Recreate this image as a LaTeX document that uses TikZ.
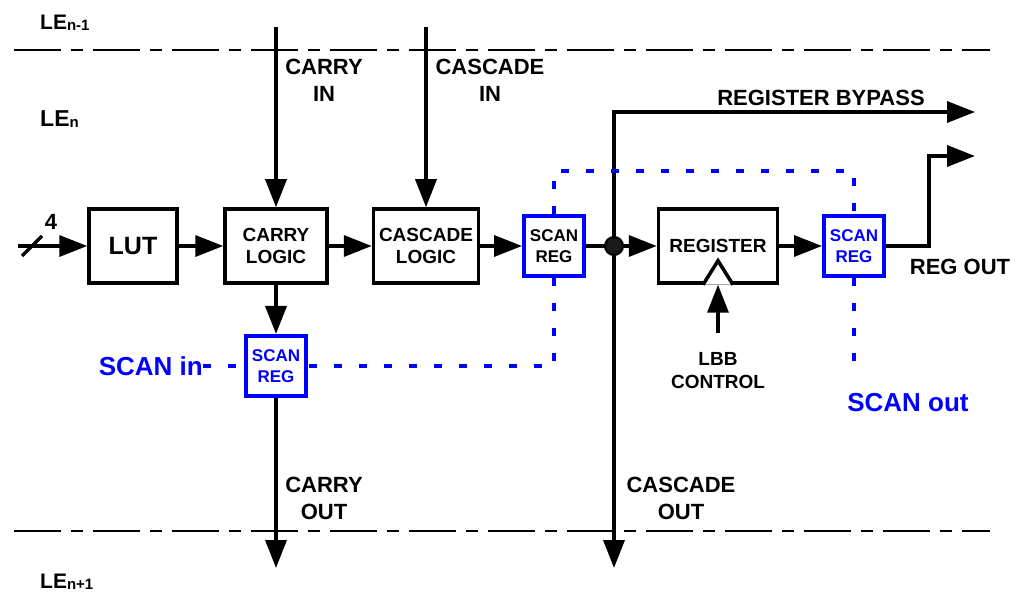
\documentclass[tikz,border=0pt]{standalone}
\usepackage{fontspec}
\setmainfont{Liberation Sans}
\usetikzlibrary{arrows.meta,positioning,calc}

\definecolor{scanblue}{RGB}{0,0,255}
\newcommand{\bsf}[2]{\fontsize{#1}{#2}\selectfont\bfseries}
\newcommand{\subsc}[1]{\raisebox{-1pt}{\fontsize{15}{15}\selectfont #1}}

\begin{document}
\begin{tikzpicture}[x=1pt, y=-1pt,
  wire/.style={line width=3.5pt},
  arr/.style={wire, -{Triangle[length=28pt,width=21pt]}},
  blk/.style={draw, line width=3.5pt, align=center, minimum height=74pt, inner sep=2pt, font=\bsf{19}{22}},
  scanbox/.style={draw=scanblue, line width=4pt, align=center, minimum width=60pt, minimum height=60pt, inner sep=1pt, font=\bsf{17}{21}},
  lbl/.style={align=center, font=\bsf{22}{27}},
  scanlbl/.style={text=scanblue, font=\bsf{26}{30}},
  scanpath/.style={draw=scanblue, line width=4pt, dash pattern=on 8pt off 17pt},
  divider/.style={line width=2.5pt, dash pattern=on 47pt off 10pt on 12pt off 10pt},
  lelbl/.style={anchor=base west, inner sep=0pt, font=\bsf{21}{21}}]
  \useasboundingbox (0,0) rectangle (1021,596);

  % logic element boundaries
  \draw[divider] (14,50) -- (990,50);
  \draw[divider] (14,531) -- (990,531);
  \node[lelbl] (lenm) at (40,30) {LE\subsc{n-1}};
  \node[lelbl, font=\bsf{23}{23}] (len) at (40,127) {LE\subsc{n}};
  \node[lelbl] (lenp) at (40,588) {LE\subsc{n+1}};

  % blocks
  \node[blk, minimum width=88pt, font=\bsf{25}{25}] (lut) at (133,246) {LUT};
  \node[blk, minimum width=102pt] (carry) at (276,246) {CARRY\\LOGIC};
  \node[blk, minimum width=105pt] (cascade) at (426,246) {CASCADE\\LOGIC};
  \node[scanbox, text=scanblue] (scanL) at (276,366) {SCAN\\REG};
  \node[scanbox] (scanM) at (554,246) {SCAN\\REG};
  \node[blk, minimum width=119pt] (reg) at (718,246) {REGISTER};
  \node[scanbox, text=scanblue] (scanR) at (854,246) {SCAN\\REG};

  \coordinate (in) at (18,246);
  \coordinate (cin) at (276,27);
  \coordinate (casin) at (426,27);
  \coordinate (cout) at (276,568);
  \coordinate (jn) at (614,246);
  \coordinate (casout) at (614,568);
  \coordinate (bypass) at (975,112);
  \coordinate (regout) at (975,156);
  \coordinate (lbbin) at (718,333);
  \coordinate (scantop) at (0,171);
  \coordinate (scanend) at (854,376);

  % data path
  \draw[arr] (in) -- (lut);
  \draw[wire] (22,256) -- (42,236);
  \node[font=\bsf{22}{22}] (bus) at (51,222) {4};
  \draw[arr] (lut) -- (carry);
  \draw[arr] (carry) -- (cascade);
  \draw[arr] (cascade) -- (scanM);
  \draw[arr] (cin) -- (carry);
  \draw[arr] (casin) -- (cascade);
  \draw[arr] (carry) -- (scanL);
  \draw[arr] (scanL) -- (cout);
  \draw[wire] (scanM) -- (jn);
  \draw[arr] (jn) -- (reg);
  \draw[arr] (jn) -- (casout);
  \draw[arr] (jn) |- (bypass);
  \draw[arr] (reg) -- (scanR);
  \draw[arr] (scanR.east) -- ++(43,0) |- (regout);
  \draw[wire, line join=miter, fill=white] ([xshift=-15pt]reg.south) -- ([yshift=24pt]reg.south) -- ([xshift=15pt]reg.south);
  \draw[arr] (lbbin) -- (reg.south);
  \node[draw, circle, fill=black!90, line width=2pt, minimum size=18pt, inner sep=0pt] (dot) at (jn) {};

  % scan chain
  \draw[scanpath] (scanM.north) -- (scanM.north |- scantop) -- (scanR.north |- scantop) -- (scanR.north);
  \draw[scanpath] (scanM.south) |- (scanL.east);
  \draw[scanpath] (scanR.south) -- (scanend);
  \node[scanlbl, anchor=east, inner sep=0pt] (scanin) at (203,366) {SCAN in};
  \draw[scanpath] (scanin.east) -- (scanL.west);
  \node[scanlbl] (scanout) at (908,403) {SCAN out};

  % labels
  \node[lbl] (cinlbl) at (324,80) {CARRY\\IN};
  \node[lbl] (casinlbl) at (490,80) {CASCADE\\IN};
  \node[lbl] (coutlbl) at (324,498) {CARRY\\OUT};
  \node[lbl] (casoutlbl) at (681,498) {CASCADE\\OUT};
  \node[lbl] (bypasslbl) at (821,98) {REGISTER BYPASS};
  \node[lbl] (regoutlbl) at (960,267) {REG OUT};
  \node[lbl, font=\bsf{19}{23}] (lbb) at (718,371) {LBB\\CONTROL};
\end{tikzpicture}
\end{document}
